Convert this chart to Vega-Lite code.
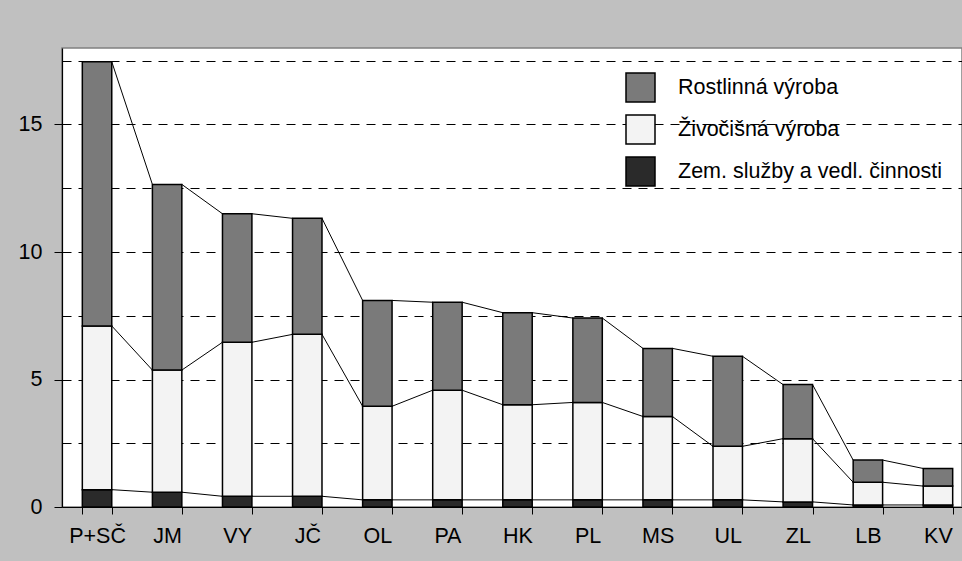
{
  "$schema": "https://vega.github.io/schema/vega-lite/v6.json",
  "width": 900,
  "height": 459,
  "autosize": {"type": "none"},
  "padding": {"left": 62, "top": 48, "right": 0, "bottom": 54},
  "background": "#c0c0c0",
  "config": {
    "font": "Liberation Sans",
    "view": {"fill": "white", "stroke": "#808080", "strokeWidth": 1.5},
    "axis": {"titleFontSize": 0}
  },
  "data": {
    "values": [
      {"region": "P+SČ", "series": "Zem. služby a vedl. činnosti", "k": 1, "value": 0.68},
      {"region": "P+SČ", "series": "Živočišná výroba", "k": 2, "value": 6.42},
      {"region": "P+SČ", "series": "Rostlinná výroba", "k": 3, "value": 10.36},
      {"region": "JM", "series": "Zem. služby a vedl. činnosti", "k": 1, "value": 0.58},
      {"region": "JM", "series": "Živočišná výroba", "k": 2, "value": 4.79},
      {"region": "JM", "series": "Rostlinná výroba", "k": 3, "value": 7.28},
      {"region": "VY", "series": "Zem. služby a vedl. činnosti", "k": 1, "value": 0.42},
      {"region": "VY", "series": "Živočišná výroba", "k": 2, "value": 6.04},
      {"region": "VY", "series": "Rostlinná výroba", "k": 3, "value": 5.04},
      {"region": "JČ", "series": "Zem. služby a vedl. činnosti", "k": 1, "value": 0.42},
      {"region": "JČ", "series": "Živočišná výroba", "k": 2, "value": 6.35},
      {"region": "JČ", "series": "Rostlinná výroba", "k": 3, "value": 4.55},
      {"region": "OL", "series": "Zem. služby a vedl. činnosti", "k": 1, "value": 0.28},
      {"region": "OL", "series": "Živočišná výroba", "k": 2, "value": 3.67},
      {"region": "OL", "series": "Rostlinná výroba", "k": 3, "value": 4.15},
      {"region": "PA", "series": "Zem. služby a vedl. činnosti", "k": 1, "value": 0.28},
      {"region": "PA", "series": "Živočišná výroba", "k": 2, "value": 4.30},
      {"region": "PA", "series": "Rostlinná výroba", "k": 3, "value": 3.45},
      {"region": "HK", "series": "Zem. služby a vedl. činnosti", "k": 1, "value": 0.28},
      {"region": "HK", "series": "Živočišná výroba", "k": 2, "value": 3.73},
      {"region": "HK", "series": "Rostlinná výroba", "k": 3, "value": 3.61},
      {"region": "PL", "series": "Zem. služby a vedl. činnosti", "k": 1, "value": 0.28},
      {"region": "PL", "series": "Živočišná výroba", "k": 2, "value": 3.82},
      {"region": "PL", "series": "Rostlinná výroba", "k": 3, "value": 3.31},
      {"region": "MS", "series": "Zem. služby a vedl. činnosti", "k": 1, "value": 0.28},
      {"region": "MS", "series": "Živočišná výroba", "k": 2, "value": 3.27},
      {"region": "MS", "series": "Rostlinná výroba", "k": 3, "value": 2.67},
      {"region": "UL", "series": "Zem. služby a vedl. činnosti", "k": 1, "value": 0.28},
      {"region": "UL", "series": "Živočišná výroba", "k": 2, "value": 2.10},
      {"region": "UL", "series": "Rostlinná výroba", "k": 3, "value": 3.53},
      {"region": "ZL", "series": "Zem. služby a vedl. činnosti", "k": 1, "value": 0.20},
      {"region": "ZL", "series": "Živočišná výroba", "k": 2, "value": 2.48},
      {"region": "ZL", "series": "Rostlinná výroba", "k": 3, "value": 2.12},
      {"region": "LB", "series": "Zem. služby a vedl. činnosti", "k": 1, "value": 0.08},
      {"region": "LB", "series": "Živočišná výroba", "k": 2, "value": 0.89},
      {"region": "LB", "series": "Rostlinná výroba", "k": 3, "value": 0.87},
      {"region": "KV", "series": "Zem. služby a vedl. činnosti", "k": 1, "value": 0.08},
      {"region": "KV", "series": "Živočišná výroba", "k": 2, "value": 0.74},
      {"region": "KV", "series": "Rostlinná výroba", "k": 3, "value": 0.69}
    ]
  },
  "transform": [
    {"window": [{"op": "row_number", "as": "rn"}]},
    {"stack": "value", "groupby": ["region"], "sort": [{"field": "k"}], "as": ["v0", "v1"]}
  ],
  "encoding": {
    "x": {
      "field": "region",
      "type": "nominal",
      "scale": {
        "domain": ["P+SČ", "JM", "VY", "JČ", "OL", "PA", "HK", "PL", "MS", "UL", "ZL", "LB", "KV"],
        "range": [0, 911],
        "paddingInner": 0.58,
        "paddingOuter": 0.29
      },
      "axis": {
        "title": null,
        "labelAngle": 0,
        "labelFontSize": 21.5,
        "labelColor": "black",
        "labelPadding": 11,
        "tickBand": "extent",
        "tickSize": 7,
        "tickColor": "black",
        "domainColor": "black",
        "domainWidth": 1.2,
        "zindex": 1
      }
    }
  },
  "layer": [
    {
      "mark": {"type": "bar", "stroke": "black", "strokeWidth": 1.5, "opacity": 1, "fillOpacity": 1},
      "encoding": {
        "y": {
          "field": "v1",
          "type": "quantitative",
          "scale": {"domain": [0, 18], "nice": false},
          "axis": {
            "title": null,
            "values": [0, 2.5, 5, 7.5, 10, 12.5, 15, 17.5],
            "labelExpr": "datum.value % 5 === 0 ? datum.label : ''",
            "labelFontSize": 21.5,
            "labelColor": "black",
            "labelPadding": 12,
            "tickSize": 8,
            "tickColor": "black",
            "tickOpacity": {"condition": {"test": "datum.value % 5 !== 0", "value": 0}, "value": 1},
            "domainColor": "black",
            "domainWidth": 1.2,
            "grid": true,
            "gridColor": "black",
            "gridDash": [9, 7],
            "gridWidth": 1,
            "gridOpacity": {"condition": {"test": "datum.value === 0", "value": 0}, "value": 1},
            "zindex": 0
          }
        },
        "y2": {"field": "v0"},
        "color": {
          "field": "series",
          "type": "nominal",
          "scale": {
            "domain": ["Rostlinná výroba", "Živočišná výroba", "Zem. služby a vedl. činnosti"],
            "range": ["#7a7a7a", "#f3f3f3", "#2a2a2a"]
          },
          "legend": {
            "title": null,
            "orient": "none",
            "legendX": 563,
            "legendY": 24,
            "padding": 0,
            "symbolType": "square",
            "symbolSize": 841,
            "symbolStrokeColor": "black",
            "symbolStrokeWidth": 1.5,
            "symbolOpacity": 1,
            "labelFontSize": 21.5,
            "labelColor": "black",
            "labelOffset": 22,
            "labelLimit": 400,
            "rowPadding": 7,
            "labelExpr": "datum.label === 'Rostlinná výroba' ? '\u00a0' + datum.label : datum.label"
          }
        }
      }
    },
    {
      "transform": [
        {
          "window": [
            {"op": "lead", "field": "region", "as": "nextRegion"},
            {"op": "lead", "field": "v1", "as": "nextV1"}
          ],
          "groupby": ["k"],
          "sort": [{"field": "rn"}]
        },
        {"filter": "datum.nextRegion != null"}
      ],
      "mark": {"type": "rule", "color": "black", "strokeWidth": 1},
      "encoding": {
        "x": {"field": "region", "type": "nominal", "bandPosition": 1},
        "x2": {"field": "nextRegion", "bandPosition": 0},
        "y": {"field": "v1", "type": "quantitative"},
        "y2": {"field": "nextV1"}
      }
    }
  ]
}
